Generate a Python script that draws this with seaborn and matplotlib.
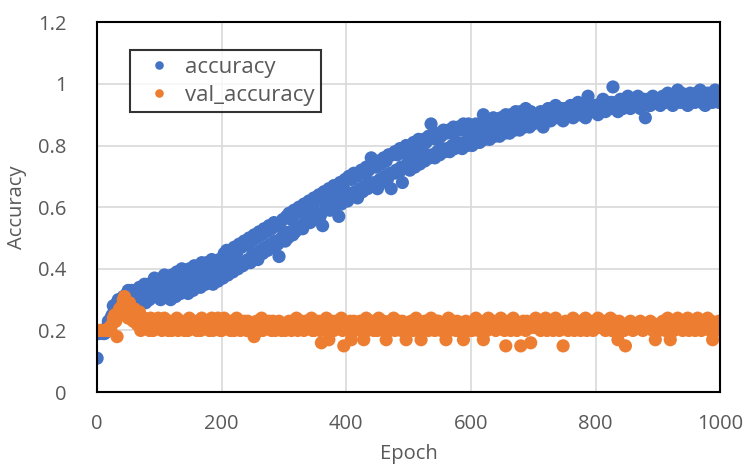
import numpy as np
import pandas as pd
import matplotlib
matplotlib.use("Agg")
import matplotlib.pyplot as plt
import seaborn as sns

# epochs sampled every 2 epochs, 0..1000
epochs = list(range(0, 1001, 2))

accuracy = [
    # 0-98
    0.11, 0.19, 0.19, 0.20, 0.20, 0.19, 0.19, 0.20, 0.21, 0.23, 0.22, 0.24, 0.25, 0.28, 0.27, 0.26, 0.29, 0.30, 0.26, 0.28, 0.30, 0.31, 0.28, 0.30, 0.32,
    0.33, 0.29, 0.31, 0.33, 0.28, 0.30, 0.32, 0.31, 0.30, 0.34, 0.33, 0.29, 0.31, 0.35, 0.29, 0.32, 0.35, 0.30, 0.32, 0.34, 0.33, 0.37, 0.34, 0.31, 0.36,
    # 100-198
    0.34, 0.30, 0.37, 0.32, 0.38, 0.31, 0.35, 0.33, 0.37, 0.30, 0.38, 0.33, 0.36, 0.31, 0.39, 0.34, 0.37, 0.32, 0.40, 0.33, 0.37, 0.34, 0.39, 0.32, 0.40,
    0.35, 0.38, 0.33, 0.41, 0.34, 0.39, 0.36, 0.40, 0.34, 0.42, 0.36, 0.40, 0.35, 0.42, 0.36, 0.41, 0.37, 0.43, 0.35, 0.42, 0.38, 0.41, 0.36, 0.43, 0.38,
    # 200-298
    0.41, 0.37, 0.45, 0.39, 0.46, 0.38, 0.43, 0.40, 0.46, 0.39, 0.47, 0.41, 0.45, 0.40, 0.48, 0.42, 0.47, 0.41, 0.49, 0.42, 0.48, 0.43, 0.50, 0.42, 0.49,
    0.45, 0.51, 0.44, 0.50, 0.43, 0.52, 0.46, 0.51, 0.45, 0.53, 0.47, 0.52, 0.46, 0.54, 0.48, 0.53, 0.47, 0.55, 0.49, 0.54, 0.48, 0.44, 0.55, 0.50, 0.56,
    # 300-398
    0.52, 0.49, 0.57, 0.50, 0.58, 0.52, 0.56, 0.51, 0.59, 0.52, 0.58, 0.53, 0.60, 0.54, 0.59, 0.53, 0.61, 0.55, 0.60, 0.56, 0.62, 0.55, 0.61, 0.57, 0.63,
    0.56, 0.62, 0.58, 0.64, 0.57, 0.63, 0.54, 0.65, 0.59, 0.64, 0.60, 0.66, 0.59, 0.65, 0.61, 0.67, 0.60, 0.66, 0.62, 0.57, 0.68, 0.61, 0.67, 0.63, 0.69,
    # 400-498
    0.65, 0.62, 0.70, 0.63, 0.69, 0.64, 0.71, 0.65, 0.70, 0.63, 0.71, 0.66, 0.72, 0.65, 0.71, 0.67, 0.73, 0.66, 0.72, 0.68, 0.76, 0.67, 0.74, 0.68, 0.73,
    0.66, 0.75, 0.69, 0.74, 0.68, 0.76, 0.70, 0.75, 0.69, 0.77, 0.71, 0.66, 0.77, 0.71, 0.78, 0.72, 0.77, 0.71, 0.79, 0.73, 0.68, 0.78, 0.73, 0.80, 0.74,
    # 500-598
    0.76, 0.72, 0.80, 0.74, 0.81, 0.73, 0.79, 0.75, 0.82, 0.74, 0.80, 0.76, 0.82, 0.75, 0.81, 0.77, 0.83, 0.76, 0.87, 0.77, 0.83, 0.76, 0.82, 0.78, 0.84,
    0.77, 0.83, 0.79, 0.85, 0.78, 0.84, 0.79, 0.85, 0.78, 0.84, 0.80, 0.86, 0.79, 0.85, 0.81, 0.86, 0.80, 0.85, 0.79, 0.87, 0.81, 0.86, 0.80, 0.87, 0.82,
    # 600-698
    0.83, 0.80, 0.86, 0.81, 0.87, 0.82, 0.85, 0.81, 0.87, 0.83, 0.90, 0.82, 0.87, 0.83, 0.88, 0.82, 0.86, 0.84, 0.89, 0.83, 0.88, 0.84, 0.87, 0.83, 0.89,
    0.85, 0.88, 0.84, 0.90, 0.85, 0.89, 0.84, 0.90, 0.86, 0.89, 0.85, 0.91, 0.86, 0.90, 0.85, 0.91, 0.87, 0.90, 0.86, 0.92, 0.87, 0.91, 0.86, 0.91, 0.88,
    # 700-798
    0.87, 0.89, 0.90, 0.88, 0.88, 0.90, 0.91, 0.89, 0.86, 0.90, 0.89, 0.91, 0.92, 0.90, 0.88, 0.89, 0.90, 0.92, 0.93, 0.91, 0.89, 0.90, 0.91, 0.92, 0.88,
    0.90, 0.92, 0.91, 0.90, 0.92, 0.93, 0.91, 0.89, 0.93, 0.91, 0.92, 0.94, 0.90, 0.90, 0.92, 0.92, 0.91, 0.89, 0.93, 0.96, 0.92, 0.93, 0.91, 0.91, 0.93,
    # 800-898
    0.93, 0.91, 0.90, 0.92, 0.92, 0.94, 0.95, 0.93, 0.91, 0.92, 0.94, 0.93, 0.92, 0.94, 0.99, 0.92, 0.93, 0.94, 0.91, 0.93, 0.95, 0.92, 0.92, 0.94, 0.94,
    0.95, 0.96, 0.93, 0.92, 0.94, 0.95, 0.93, 0.93, 0.94, 0.96, 0.95, 0.92, 0.93, 0.94, 0.95, 0.89, 0.94, 0.95, 0.93, 0.93, 0.95, 0.96, 0.94, 0.94, 0.95,
    # 900-998
    0.95, 0.94, 0.93, 0.95, 0.96, 0.94, 0.94, 0.96, 0.97, 0.95, 0.95, 0.94, 0.93, 0.96, 0.96, 0.95, 0.98, 0.95, 0.94, 0.97, 0.96, 0.94, 0.95, 0.96, 0.93,
    0.95, 0.97, 0.94, 0.95, 0.96, 0.94, 0.97, 0.96, 0.95, 0.98, 0.94, 0.95, 0.96, 0.93, 0.95, 0.97, 0.94, 0.95, 0.96, 0.94, 0.97, 0.98, 0.95, 0.96, 0.94,
    # 1000
    0.95,
]

val_accuracy = [
    # 0-98
    0.20, 0.20, 0.20, 0.20, 0.20, 0.20, 0.20, 0.20, 0.20, 0.20, 0.21, 0.20, 0.22, 0.24, 0.25, 0.23, 0.18, 0.26, 0.27, 0.25, 0.28, 0.30, 0.31, 0.28, 0.26,
    0.24, 0.29, 0.27, 0.25, 0.23, 0.27, 0.25, 0.22, 0.24, 0.26, 0.20, 0.21, 0.23, 0.24, 0.21, 0.23, 0.22, 0.20, 0.24, 0.22, 0.20, 0.21, 0.22, 0.23, 0.24,
    # 100-198
    0.22, 0.21, 0.20, 0.23, 0.24, 0.22, 0.21, 0.20, 0.23, 0.22, 0.20, 0.21, 0.22, 0.23, 0.24, 0.20, 0.21, 0.22, 0.23, 0.21, 0.20, 0.23, 0.22, 0.20, 0.24,
    0.22, 0.21, 0.23, 0.23, 0.21, 0.20, 0.22, 0.22, 0.20, 0.24, 0.23, 0.21, 0.22, 0.23, 0.21, 0.20, 0.23, 0.24, 0.20, 0.22, 0.22, 0.21, 0.24, 0.23, 0.20,
    # 200-298
    0.20, 0.22, 0.24, 0.21, 0.22, 0.23, 0.21, 0.20, 0.23, 0.22, 0.20, 0.21, 0.24, 0.23, 0.22, 0.20, 0.21, 0.22, 0.23, 0.21, 0.20, 0.23, 0.22, 0.21, 0.21,
    0.20, 0.18, 0.22, 0.23, 0.21, 0.20, 0.23, 0.24, 0.20, 0.22, 0.22, 0.21, 0.21, 0.23, 0.22, 0.20, 0.23, 0.22, 0.20, 0.21, 0.22, 0.23, 0.21, 0.20, 0.22,
    # 300-398
    0.22, 0.20, 0.21, 0.22, 0.23, 0.21, 0.20, 0.23, 0.22, 0.21, 0.24, 0.20, 0.21, 0.22, 0.23, 0.21, 0.20, 0.23, 0.22, 0.21, 0.21, 0.22, 0.24, 0.20, 0.20,
    0.23, 0.22, 0.21, 0.23, 0.20, 0.16, 0.22, 0.21, 0.23, 0.24, 0.21, 0.17, 0.20, 0.22, 0.23, 0.20, 0.22, 0.23, 0.21, 0.21, 0.22, 0.24, 0.20, 0.15, 0.22,
    # 400-498
    0.22, 0.21, 0.20, 0.23, 0.17, 0.21, 0.23, 0.20, 0.21, 0.22, 0.22, 0.23, 0.20, 0.21, 0.17, 0.22, 0.24, 0.20, 0.21, 0.22, 0.23, 0.21, 0.20, 0.23, 0.22,
    0.20, 0.24, 0.22, 0.21, 0.21, 0.23, 0.20, 0.17, 0.22, 0.20, 0.23, 0.22, 0.21, 0.24, 0.20, 0.21, 0.22, 0.23, 0.21, 0.20, 0.23, 0.22, 0.21, 0.17, 0.22,
    # 500-598
    0.21, 0.22, 0.23, 0.21, 0.20, 0.22, 0.24, 0.21, 0.22, 0.20, 0.17, 0.22, 0.21, 0.23, 0.23, 0.21, 0.20, 0.22, 0.24, 0.21, 0.22, 0.20, 0.21, 0.23, 0.23,
    0.21, 0.20, 0.22, 0.22, 0.21, 0.17, 0.23, 0.24, 0.20, 0.21, 0.22, 0.23, 0.21, 0.20, 0.23, 0.22, 0.20, 0.21, 0.22, 0.17, 0.21, 0.23, 0.22, 0.20, 0.21,
    # 600-698
    0.22, 0.20, 0.21, 0.23, 0.24, 0.22, 0.20, 0.21, 0.23, 0.22, 0.17, 0.21, 0.22, 0.20, 0.24, 0.22, 0.21, 0.23, 0.23, 0.21, 0.20, 0.22, 0.22, 0.23, 0.24,
    0.21, 0.21, 0.20, 0.15, 0.22, 0.23, 0.21, 0.20, 0.23, 0.24, 0.21, 0.22, 0.20, 0.21, 0.22, 0.15, 0.21, 0.23, 0.22, 0.20, 0.23, 0.22, 0.21, 0.16, 0.22,
    # 700-798
    0.21, 0.23, 0.24, 0.21, 0.23, 0.22, 0.20, 0.21, 0.22, 0.23, 0.24, 0.20, 0.21, 0.22, 0.23, 0.21, 0.20, 0.23, 0.24, 0.21, 0.22, 0.20, 0.21, 0.22, 0.15,
    0.21, 0.23, 0.22, 0.20, 0.23, 0.22, 0.21, 0.24, 0.20, 0.21, 0.22, 0.23, 0.21, 0.20, 0.23, 0.22, 0.21, 0.24, 0.20, 0.21, 0.22, 0.23, 0.21, 0.20, 0.22,
    # 800-898
    0.22, 0.21, 0.24, 0.22, 0.21, 0.23, 0.23, 0.21, 0.20, 0.22, 0.22, 0.21, 0.24, 0.20, 0.21, 0.22, 0.23, 0.21, 0.17, 0.23, 0.20, 0.21, 0.22, 0.20, 0.15,
    0.22, 0.21, 0.22, 0.23, 0.21, 0.20, 0.22, 0.22, 0.21, 0.21, 0.22, 0.23, 0.21, 0.20, 0.22, 0.22, 0.21, 0.21, 0.22, 0.23, 0.21, 0.20, 0.22, 0.17, 0.21,
    # 900-998
    0.22, 0.20, 0.21, 0.22, 0.23, 0.21, 0.20, 0.23, 0.24, 0.21, 0.17, 0.22, 0.22, 0.20, 0.21, 0.23, 0.24, 0.21, 0.23, 0.22, 0.20, 0.21, 0.22, 0.23, 0.24,
    0.20, 0.21, 0.22, 0.23, 0.21, 0.20, 0.23, 0.24, 0.21, 0.22, 0.20, 0.21, 0.23, 0.23, 0.22, 0.24, 0.21, 0.20, 0.23, 0.17, 0.22, 0.22, 0.20, 0.21, 0.23,
    # 1000
    0.21,
]

x_ticks = [0, 200, 400, 600, 800, 1000]
y_ticks = [0, 0.2, 0.4, 0.6, 0.8, 1.0, 1.2]
y_tick_labels = ["0", "0.2", "0.4", "0.6", "0.8", "1", "1.2"]

sns.set_style("white")
plt.rcParams['font.family'] = ['Open Sans', 'DejaVu Sans']

df = pd.concat([
    pd.DataFrame({"Epoch": epochs, "Accuracy": accuracy, "series": "accuracy"}),
    pd.DataFrame({"Epoch": epochs, "Accuracy": val_accuracy, "series": "val_accuracy"}),
], ignore_index=True)

fig = plt.figure(figsize=(7.47, 4.73), dpi=100)
ax = fig.add_axes([0.130, 0.171, 0.834, 0.782])

sns.scatterplot(data=df, x="Epoch", y="Accuracy", hue="series",
                palette={"accuracy": "#4472C4", "val_accuracy": "#ED7D31"},
                s=90, linewidth=0, ax=ax, zorder=3)

ax.set_xlim(0, 1000)
ax.set_ylim(0, 1.2)
ax.set_xticks(x_ticks)
ax.set_yticks(y_ticks)
ax.set_yticklabels(y_tick_labels)
ax.grid(True, color="#d9d9d9", linewidth=1.2)
ax.set_axisbelow(True)
for sp in ax.spines.values():
    sp.set_visible(True)
    sp.set_color("black")
    sp.set_linewidth(1.5)
    sp.set_zorder(4)
ax.tick_params(axis="both", length=0, labelsize=14.5, labelcolor="#595959")
ax.tick_params(axis="x", pad=16)
ax.tick_params(axis="y", pad=22)
ax.set_xlabel("Epoch", fontsize=14.5, color="#595959", labelpad=7)
ax.set_ylabel("Accuracy", fontsize=14.5, color="#595959", labelpad=8)

leg = ax.legend(loc="upper left", bbox_to_anchor=(0.053, 0.924), borderaxespad=0,
                fontsize=16, frameon=True, fancybox=False, markerscale=0.65,
                handlelength=2.0, handletextpad=0.15, borderpad=0.3, labelspacing=0.3)
leg.get_frame().set_edgecolor("black")
leg.get_frame().set_linewidth(1.5)
for t in leg.get_texts():
    t.set_color("#595959")

fig.savefig("out.png", dpi=100)
